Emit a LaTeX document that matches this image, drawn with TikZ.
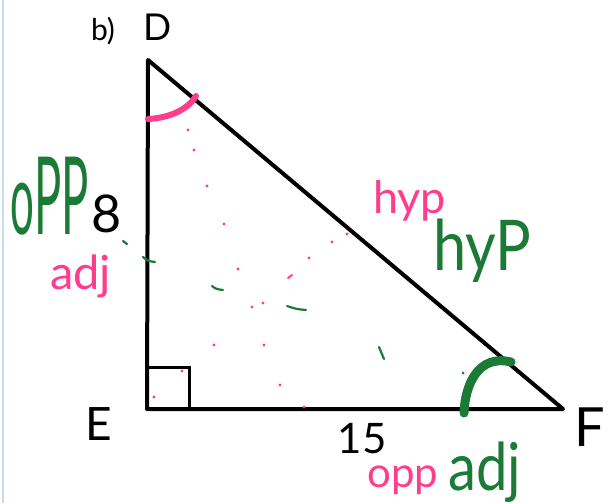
\documentclass[tikz,border=0pt]{standalone}
\usepackage{fontspec}
\newfontfamily\hand{Lato}
\newfontfamily\handN[FakeStretch=0.42]{Lato}
\newfontfamily\handM[FakeStretch=0.85]{Lato}
\definecolor{hpink}{HTML}{FF3D8C}
\definecolor{hgreen}{HTML}{1B7A35}
\definecolor{edge}{HTML}{C9DDEE}
\tikzset{
  lbl/.style={inner sep=0pt, font=\hand},
  pinkdot/.style={fill=hpink},
  greendash/.style={draw=hgreen, line width=2.2pt, line cap=round},
}
\newcommand{\fs}[1]{\fontsize{#1}{#1}\selectfont}
\begin{document}
\begin{tikzpicture}[x=1pt,y=-1pt]
\useasboundingbox (0,0) rectangle (608,503);
\fill[white] (0,0) rectangle (608,503);
\draw[edge, line width=1.5pt] (3,0) -- (3,503);
% triangle
\coordinate (D) at (148,60);
\coordinate (E) at (147,409);
\coordinate (F) at (563,409);
\draw[line width=4pt, line join=round] (D) -- (E) -- (F) -- cycle;
% right angle mark
\coordinate (Sa) at (147,367);
\coordinate (Sb) at (189,367);
\coordinate (Sc) at (189,409);
\draw[line width=3pt] (Sa) -- (Sb) -- (Sc);
% angle marks
\coordinate (pa1) at (148,119);
\coordinate (pa2) at (196,96);
\draw[hpink, line width=6pt, line cap=round] (pa1) .. controls (166,118) and (186,112) .. (pa2);
\coordinate (ga1) at (464,413);
\coordinate (ga2) at (511,362);
\draw[hgreen, line width=9pt, line cap=round] (ga1) .. controls (465,385) and (478,354) .. (ga2);
% pink dots
\foreach \p in {(188,130),(194,150),(207,186),(224,224),(238,269),(347,234),(332,242),(309,258),(252,307),(263,303),(214,345),(264,345),(182,371),(154,397),(280,385),(304,407)}
  \fill[pinkdot] \p circle (1.6);
\draw[hpink, line width=2pt, line cap=round] (288,278) -- (292,275);
% green dashes
\draw[greendash] (123,241) -- (127,244);
\draw[greendash] (143,257) .. controls (148,261) .. (155,262);
\draw[greendash] (212,286) .. controls (216,289) .. (223,290);
\draw[greendash] (287,306) .. controls (296,309) .. (306,310);
\draw[greendash] (379,347) -- (384,359);
\fill[hgreen] (463,373) circle (1.5);
% labels
\node[lbl] (b) at (103,31) {\fs{30}b)};
\node[lbl] (Dl) at (158,27) {\fs{37}D};
\node[lbl] (El) at (99,424) {\fs{46}E};
\node[lbl] (Fl) at (590,427) {\fs{54}F};
\node[lbl] (eight) at (107,214) {\fs{52}8};
\node[lbl] (fifteen) at (362,439) {\fs{42}15};
\node[lbl, text=hgreen, anchor=base west, font=\handN] (gopp) at (10,234) {\fs{100}o\fs{108}PP};
\node[lbl, text=hpink, anchor=base west] (padj) at (50,289) {\fs{47}adj};
\node[lbl, text=hpink, anchor=base west] (phyp) at (373,213) {\fs{45}hyp};
\node[lbl, text=hgreen, anchor=base west, font=\handM] (ghyp) at (433,270) {\fs{70}hyP};
\node[lbl, text=hpink, anchor=base west] (popp) at (367,487) {\fs{42}opp};
\node[lbl, text=hgreen, anchor=base west, font=\handM] (gadj) at (448,490) {\fs{66}adj};
\end{tikzpicture}
\end{document}
